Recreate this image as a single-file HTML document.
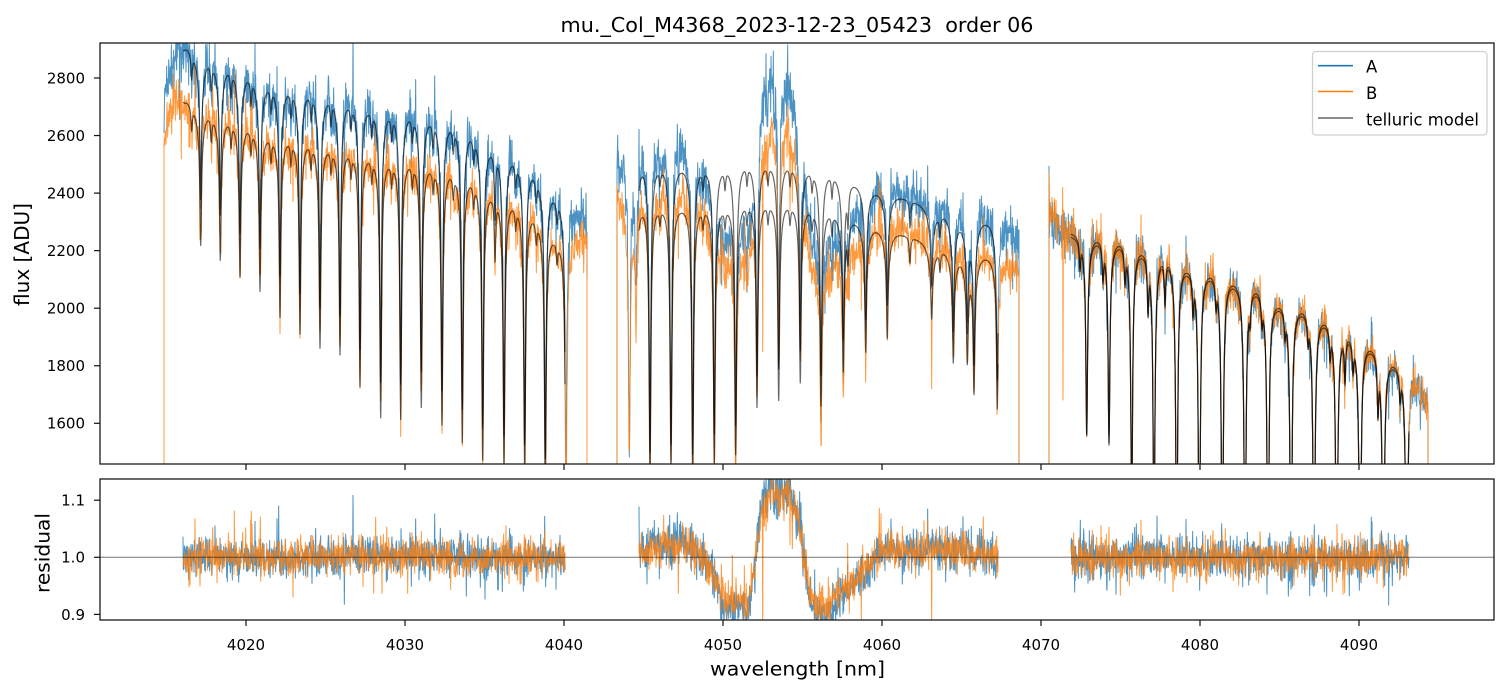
<!DOCTYPE html>
<html><head><meta charset="utf-8">
<style>
html,body{margin:0;padding:0;background:#fff}
svg{display:block}
text{font-family:"DejaVu Sans","Liberation Sans",sans-serif;fill:#000}
</style></head>
<body>
<svg id="s" width="1510" height="696" viewBox="0 0 1510 696" xmlns="http://www.w3.org/2000/svg">
<defs>
<clipPath id="ct"><rect x="100" y="43" width="1394" height="421"/></clipPath>
<clipPath id="cb"><rect x="100" y="479" width="1394" height="141"/></clipPath>
</defs>
<rect width="1510" height="696" fill="#fff"/>
<g clip-path="url(#ct)" fill="none" stroke-linejoin="round">
<path id="pA" stroke="#1f77b4" stroke-opacity="0.8" stroke-width="1"/>
<path id="pB" stroke="#ff7f0e" stroke-opacity="0.8" stroke-width="1"/>
<path id="mA" stroke="#000" stroke-opacity="0.6" stroke-width="1.2"/>
<path id="mB" stroke="#000" stroke-opacity="0.6" stroke-width="1.2"/>
</g>
<g clip-path="url(#cb)" fill="none" stroke-linejoin="round">
<path id="rA" stroke="#1f77b4" stroke-opacity="0.8" stroke-width="1"/>
<path id="rB" stroke="#ff7f0e" stroke-opacity="0.8" stroke-width="1"/>
<line x1="100" y1="557.3" x2="1494" y2="557.3" stroke="#000" stroke-opacity="0.55" stroke-width="1"/>
</g>
<rect x="100" y="43" width="1394" height="421" fill="none" stroke="#111" stroke-width="1.25"/>
<rect x="100" y="479" width="1394" height="141" fill="none" stroke="#111" stroke-width="1.25"/>
<g stroke="#111" stroke-width="1.2">
<line x1="94" y1="78" x2="100" y2="78"/>
<line x1="94" y1="135.55" x2="100" y2="135.55"/>
<line x1="94" y1="193.1" x2="100" y2="193.1"/>
<line x1="94" y1="250.65" x2="100" y2="250.65"/>
<line x1="94" y1="308.2" x2="100" y2="308.2"/>
<line x1="94" y1="365.75" x2="100" y2="365.75"/>
<line x1="94" y1="423.3" x2="100" y2="423.3"/>
<line x1="94" y1="500.2" x2="100" y2="500.2"/>
<line x1="94" y1="557.3" x2="100" y2="557.3"/>
<line x1="94" y1="614.4" x2="100" y2="614.4"/>
<line x1="246" y1="464" x2="246" y2="470"/><line x1="405" y1="464" x2="405" y2="470"/>
<line x1="564" y1="464" x2="564" y2="470"/><line x1="723" y1="464" x2="723" y2="470"/>
<line x1="882" y1="464" x2="882" y2="470"/><line x1="1041" y1="464" x2="1041" y2="470"/>
<line x1="1200" y1="464" x2="1200" y2="470"/><line x1="1359" y1="464" x2="1359" y2="470"/>
<line x1="246" y1="620" x2="246" y2="626"/><line x1="405" y1="620" x2="405" y2="626"/>
<line x1="564" y1="620" x2="564" y2="626"/><line x1="723" y1="620" x2="723" y2="626"/>
<line x1="882" y1="620" x2="882" y2="626"/><line x1="1041" y1="620" x2="1041" y2="626"/>
<line x1="1200" y1="620" x2="1200" y2="626"/><line x1="1359" y1="620" x2="1359" y2="626"/>
</g>
<g font-size="15" text-anchor="end">
<text x="85" y="83.4">2800</text>
<text x="85" y="140.9">2600</text>
<text x="85" y="198.5">2400</text>
<text x="85" y="256">2200</text>
<text x="85" y="313.6">2000</text>
<text x="85" y="371.1">1800</text>
<text x="85" y="428.7">1600</text>
<text x="85" y="505.6">1.1</text>
<text x="85" y="562.7">1.0</text>
<text x="85" y="619.8">0.9</text>
</g>
<g font-size="15" text-anchor="middle">
<text x="246" y="650">4020</text>
<text x="405" y="650">4030</text>
<text x="564" y="650">4040</text>
<text x="723" y="650">4050</text>
<text x="882" y="650">4060</text>
<text x="1041" y="650">4070</text>
<text x="1200" y="650">4080</text>
<text x="1359" y="650">4090</text>
</g>
<text x="797" y="32" text-anchor="middle" font-size="20" textLength="473" lengthAdjust="spacingAndGlyphs" style="white-space:pre">mu._Col_M4368_2023-12-23_05423  order 06</text>
<text x="797.5" y="675.5" text-anchor="middle" font-size="19.5" textLength="175" lengthAdjust="spacingAndGlyphs">wavelength [nm]</text>
<text transform="translate(29,254.5) rotate(-90)" text-anchor="middle" font-size="20" textLength="103" lengthAdjust="spacingAndGlyphs">flux [ADU]</text>
<text transform="translate(49.3,553) rotate(-90)" text-anchor="middle" font-size="19.5" textLength="80" lengthAdjust="spacingAndGlyphs">residual</text>
<rect x="1312.5" y="51.5" width="174.5" height="83.5" rx="3.5" fill="#fff" fill-opacity="0.8" stroke="#d0d0d0" stroke-width="1.3"/>
<line x1="1318" y1="65.7" x2="1353" y2="65.7" stroke="#1f77b4" stroke-width="1.6"/>
<line x1="1318" y1="91.5" x2="1353" y2="91.5" stroke="#ff7f0e" stroke-width="1.6"/>
<line x1="1318" y1="118" x2="1353" y2="118" stroke="#000" stroke-opacity="0.6" stroke-width="1.6"/>
<g font-size="16.5">
<text x="1366" y="72.6">A</text>
<text x="1366" y="99.2">B</text>
<text x="1366" y="125.6" textLength="113" lengthAdjust="spacingAndGlyphs">telluric model</text>
</g>
</svg>
<script>
(function(){
var s=987654321;
function rnd(){s^=s<<13;s>>>=0;s^=s>>>17;s^=s<<5;s>>>=0;return s/4294967296;}
function gau(){var u=rnd()||1e-9,v=rnd();return Math.sqrt(-2*Math.log(u))*Math.cos(6.283185*v);}
function lin(p,x){if(x<=p[0][0])return p[0][1];for(var i=1;i<p.length;i++){if(x<=p[i][0]){var t=(x-p[i-1][0])/(p[i][0]-p[i-1][0]);return p[i-1][1]+t*(p[i][1]-p[i-1][1]);}}return p[p.length-1][1];}
function Y(f){var y=78+(2800-f)*0.28775;return Math.max(-50,Math.min(800,y));}
function YR(r){var y=557.3-(r-1)*571;return Math.max(460,Math.min(640,y));}
var m1=[[200.7,.857],[220.3,.845],[240,.83],[260,.82],[280,.79],[300,.77],[320,.755],[340,.75],[360,.71],[380.7,.67],[400.7,.67],[421.3,.69],[442,.67],[462.3,.65],[482.7,.635],[504,.635],[524.7,.633],[545.3,.63],[566,.62]];
var segs=[
{x0:164,x1:587,m0:183,m1:565,k:1.012,kB:1.02,ra:1,sdA:.017,sdB:.016,
 cA:[[164,2690],[170,2780],[178,2860],[186.7,2880],[205,2857],[226.7,2835],[246.7,2810],[266.7,2775],[286.7,2764],[306.7,2753],[326.7,2735],[350,2718],[366.7,2700],[390,2683],[410,2678],[430,2660],[450,2643],[470,2613],[490,2561],[513,2522],[533,2474],[553,2393],[570,2345],[587,2290]],
 rB:[[164,1.045],[185,1.068],[560,1.065],[587,1.035]],
 R:[[164,1],[300,1],[380,1.005],[460,1],[587,1]],
 main:m1, sec:m1.map(function(l){return [l[0]-9,.97];}).concat([[495,.94]]),
 sA:null,sB:1000,eA:2100,eB:1000,
 sp:[[353,'A',2960],[215,'A',2960],[190,'B',2560]]},
{x0:617,x1:1019,m0:639,m1:998,k:1.015,kB:1.02,ra:1.12,sdA:.019,sdB:.016,
 cA:[[617,2500],[640,2515],[660,2487],[681.7,2480],[725,2480],[746.7,2494],[788,2490],[810,2471],[830,2457],[853,2422],[873,2393],[896.7,2365],[916.7,2342],[936.7,2318],[958,2300],[983,2289],[1000,2275],[1019,2210]],
 rB:[[617,1.06],[1019,1.055]],
 R:[[617,1],[639,1],[650,1.02],[690,1.02],[703,1.0],[715,0.97],[725,0.925],[748,0.92],[755,0.99],[762,1.08],[772,1.11],[790,1.105],[800,1.05],[806,0.97],[812,0.92],[830,0.915],[840,0.94],[860,0.97],[880,1.01],[960,1.015],[985,1.005],[1019,1.0]],
 main:[[629.3,.64],[636,.85],[650,.62],[671,.635],[692.7,.62],[714.3,.65],[735.7,.66],[757,.73],[778.7,.74],[800.3,.77],[821,.74],[843.3,.80],[865.7,.84],[887.3,.87],[931.7,.92],[953.3,.86],[967.3,.87],[974,.82],[997.3,.79]],
 sec:[[848,.95],[910,.96],[940,.97],[660,.98],[703,.975],[725,.975],[747,.975],[768,.975],[790,.975],[812,.975],[832,.97]],
 sA:1300,sB:1000,eA:1000,eB:1000,
 sp:[[762.7,'B',1848],[931.7,'B',1720],[629.3,'B',1560]]},
{x0:1049,x1:1428,m0:1071,m1:1409,k:1.015,kB:1.0,ra:1,sdA:.018,sdB:.017,
 cA:[[1049,2280],[1060,2250],[1070,2225],[1097,2220],[1120,2210],[1142,2185],[1170,2157],[1187,2126],[1210,2108],[1233,2080],[1258,2052],[1277,2004],[1303,1983],[1327,1941],[1350,1890],[1373,1848],[1393,1796],[1410,1745],[1420,1700],[1428,1640]],
 rB:[[1049,0.995],[1428,0.995]],
 R:[[1049,1],[1428,1]],
 main:[[1086.7,.72],[1109,.71],[1131.7,.6],[1154,.55],[1176.7,.52],[1199.3,.5],[1222.3,.5],[1245,.5],[1268,.5],[1291,.5],[1314,.5],[1336.7,.5],[1360,.5],[1383.3,.5],[1406.7,.5]],
 sec:[[1148,.92],[1165,.93],[1193,.94],[1250,.96],[1345,.92],[1378,.9],[1080,.96],[1103,.95],[1125,.95],[1216,.96],[1262,.96],[1285,.96],[1308,.96],[1330,.95],[1353,.95],[1400,.95]],
 sA:1000,sB:1000,eA:1000,eB:1000,
 sp:[[1049,'A',2494],[1049,'B',2470],[1063,'B',1681]]}
];
var dA=[],dB=[],MA=[],MB=[],RA=[],RB=[];
segs.forEach(function(g){
  var lines=[];
  g.main.forEach(function(l){lines.push([l[0],-Math.log(l[1]),0.9]);lines.push([l[0],0.04,4]);});
  g.sec.forEach(function(l){lines.push([l[0],-Math.log(l[1]),0.8]);});
  function T(x){var tau=0;for(var i=0;i<lines.length;i++){var d=(x-lines[i][0])/lines[i][2];tau+=lines[i][1]/(1+d*d);}return Math.exp(-tau);}
  var pa=[],pb=[],ra=[],rb=[];
  if(g.sA!==null)pa.push(g.x0.toFixed(2)+','+Y(g.sA).toFixed(1));
  if(g.sB!==null)pb.push(g.x0.toFixed(2)+','+Y(g.sB).toFixed(1));
  var n=Math.round((g.x1-g.x0)*3);
  for(var i=0;i<=n;i++){
    var x=g.x0+i/3;
    var t=T(x);
    var cA=lin(g.cA,x)*g.k;
    var cB=cA/lin(g.rB,x);
    var tB=Math.pow(t,g.kB);
    var R=lin(g.R,x);
    var Ra=1+g.ra*(R-1);
    var sdA=g.sdA/Math.pow(t,0.5),sdB=g.sdB/Math.pow(tB,0.5);
    var nA=gau()*sdA,nB=gau()*sdB;
    if(rnd()<0.025)nA+=(rnd()<0.55?-1:1)*(0.02+rnd()*0.05);
    if(rnd()<0.025)nB+=(rnd()<0.55?-1:1)*(0.02+rnd()*0.05);
    var mAv=cA*t,mBv=cB*tB;
    var fa=mAv*Ra*(1+nA),fb=mBv*R*(1+nB);
    for(var j=0;j<g.sp.length;j++){var sp=g.sp[j];if(Math.abs(x-sp[0])<0.17){if(sp[1]==='A')fa=sp[2];else fb=sp[2];}}
    pa.push(x.toFixed(2)+','+Y(fa).toFixed(1));
    pb.push(x.toFixed(2)+','+Y(fb).toFixed(1));
    if(x>=g.m0&&x<=g.m1){
      ra.push(x.toFixed(2)+','+YR(fa/mAv).toFixed(1));
      rb.push(x.toFixed(2)+','+YR(fb/mBv).toFixed(1));
    }
  }
  pa.push(g.x1.toFixed(2)+','+Y(g.eA).toFixed(1));
  pb.push(g.x1.toFixed(2)+','+Y(g.eB).toFixed(1));
  dA.push('M'+pa.join('L'));dB.push('M'+pb.join('L'));
  RA.push('M'+ra.join('L'));RB.push('M'+rb.join('L'));
  var ma=[],mb=[];
  var nm=Math.round((g.m1-g.m0)*4);
  for(var q=0;q<=nm;q++){
    var xx=g.m0+q/4;
    var tt=T(xx);
    var ca=lin(g.cA,xx)*g.k,cb=ca/lin(g.rB,xx);
    ma.push(xx.toFixed(2)+','+Y(ca*tt).toFixed(1));
    mb.push(xx.toFixed(2)+','+Y(cb*Math.pow(tt,g.kB)).toFixed(1));
  }
  MA.push('M'+ma.join('L'));MB.push('M'+mb.join('L'));
});
document.getElementById('pA').setAttribute('d',dA.join(''));
document.getElementById('pB').setAttribute('d',dB.join(''));
document.getElementById('mA').setAttribute('d',MA.join(''));
document.getElementById('mB').setAttribute('d',MB.join(''));
document.getElementById('rA').setAttribute('d',RA.join(''));
document.getElementById('rB').setAttribute('d',RB.join(''));
})();
</script>
</body></html>
